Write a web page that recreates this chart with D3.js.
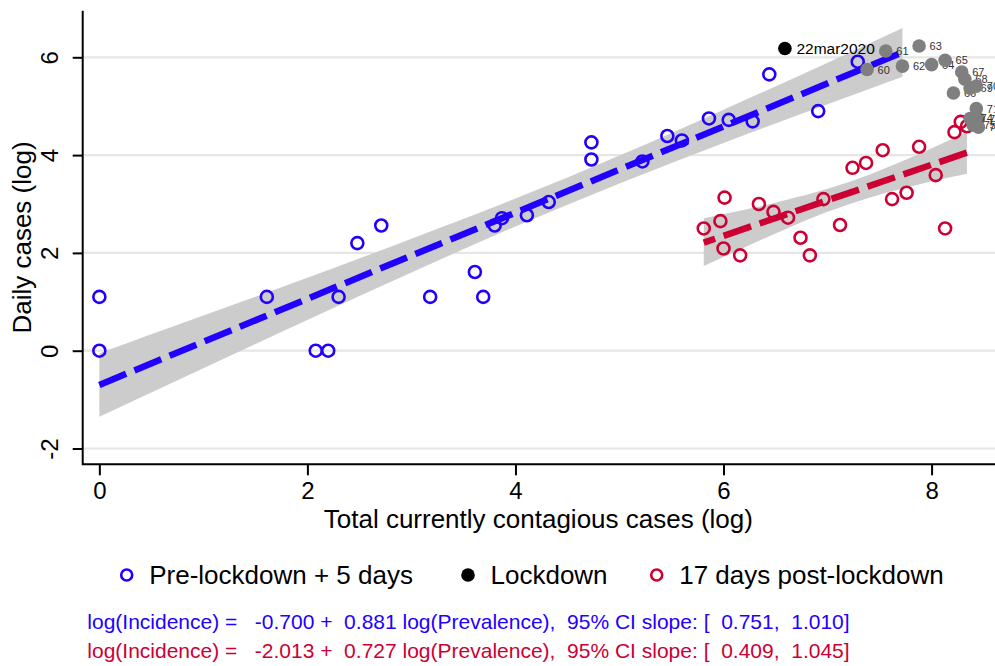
<!DOCTYPE html>
<html>
<head>
<meta charset="utf-8">
<script src="https://cdn.jsdelivr.net/npm/d3@7"></script>
<style>
  body { margin: 0; background: #fff; }
  svg { display: block; font-family: "Liberation Sans", Arial, sans-serif; }
</style>
</head>
<body>
<figure style="margin:0"></figure>
<script>

////////////////////////////////////
//////////////// Data //////////////
////////////////////////////////////

// pre-lockdown + 5 days (log prevalence, log incidence)
const preX = [0, 0, 1.61, 2.08, 2.20, 2.30, 2.48, 2.71, 3.18, 3.61, 3.69, 3.80, 3.87, 4.11, 4.32, 4.73, 4.73, 5.22, 5.46, 5.60, 5.86, 6.05, 6.28, 6.44, 6.91, 7.29]
const preY = [1.10, 0, 1.10, 0, 0, 1.10, 2.20, 2.56, 1.10, 1.61, 1.10, 2.56, 2.71, 2.77, 3.04, 3.91, 4.26, 3.87, 4.39, 4.30, 4.75, 4.72, 4.69, 5.65, 4.90, 5.91]

// lockdown day
const lockX = [6.59]
const lockY = [6.18]
const lockLab = ["22mar2020"]

// labelled days in between
const midX = [7.38, 7.56, 7.72, 7.88, 8.00, 8.13, 8.21, 8.29, 8.32, 8.37, 8.43, 8.43, 8.45, 8.45, 8.37, 8.40]
const midY = [5.75, 6.13, 5.82, 6.23, 5.85, 5.94, 5.27, 5.70, 5.55, 5.37, 5.41, 4.95, 4.74, 4.57, 4.75, 4.61]
const midLab = ["60", "61", "62", "63", "64", "65", "66", "67", "68", "69", "70", "71", "72", "73", "74", "75"]

// 17 days post-lockdown
const postX = [5.81, 5.97, 6.01, 6.00, 6.16, 6.34, 6.48, 6.62, 6.74, 6.83, 6.96, 7.12, 7.24, 7.37, 7.53, 7.62, 7.76, 7.88, 8.04, 8.13, 8.22, 8.28, 8.34]
const postY = [2.50, 2.65, 3.13, 2.09, 1.95, 3.00, 2.84, 2.72, 2.31, 1.95, 3.10, 2.57, 3.74, 3.84, 4.10, 3.10, 3.23, 4.17, 3.59, 2.50, 4.47, 4.68, 4.59]

// fitted lines (intercept, slope) and their x range
const preFit = [-0.700, 0.881]
const preRange = [0, 7.72]
const postFit = [-2.013, 0.727]
const postRange = [5.81, 8.34]

// 95% CI bands
const preBandX = [0, 1, 2, 3, 4, 5, 6, 7, 7.72]
const preBandLo = [-1.35, -0.36, 0.63, 1.60, 2.54, 3.42, 4.25, 5.04, 5.60]
const preBandHi = [-0.05, 0.72, 1.49, 2.29, 3.11, 3.99, 4.93, 5.89, 6.60]
const postBandX = [5.81, 6.2, 6.6, 7.0, 7.4, 7.8, 8.34]
const postBandLo = [1.73, 2.11, 2.49, 2.84, 3.13, 3.36, 3.62]
const postBandHi = [2.71, 2.88, 3.08, 3.31, 3.60, 3.95, 4.48]

const xTicks = [0, 2, 4, 6, 8]
const yTicks = [-2, 0, 2, 4, 6]

const legendLabels = ["Pre-lockdown + 5 days", "Lockdown", "17 days post-lockdown"]
const noteLines = [
  "log(Incidence) =   -0.700 +  0.881 log(Prevalence),  95% CI slope: [  0.751,  1.010]",
  "log(Incidence) =   -2.013 +  0.727 log(Prevalence),  95% CI slope: [  0.409,  1.045]"
]

////////////////////////////////////
///////////// SVG Setup ////////////
////////////////////////////////////

const svgWidth = 995
const svgHeight = 666
const plot = { left: 82.7, right: 994, top: 10.7, bottom: 464.3 }

const blue = "#2200ff"
const red = "#cc0033"
const band = "#cccccc"
const font = "'Liberation Sans', Arial, sans-serif"

const svg = d3.select('figure')
  .append('svg')
  .attr("width", svgWidth)
  .attr("height", svgHeight)
  .attr("viewBox", `0 0 ${svgWidth} ${svgHeight}`)

const x = d3.scaleLinear()
  .domain([-0.16, 8.60])
  .range([plot.left, plot.right])

const y = d3.scaleLinear()
  .domain([-2.323, 6.953])
  .range([plot.bottom, plot.top])

// grid lines
svg.append("g")
  .selectAll("line")
  .data(yTicks)
  .enter().append("line")
  .attr("x1", plot.left)
  .attr("x2", svgWidth)
  .attr("y1", d => y(d))
  .attr("y2", d => y(d))
  .style("stroke", "#e6e6e6")
  .style("stroke-width", 2.2)

////////////////////////////////////
///////// Bands & lines ////////////
////////////////////////////////////

const area = d3.area()
  .x(d => x(d[0]))
  .y0(d => y(d[1]))
  .y1(d => y(d[2]))
  .curve(d3.curveMonotoneX)

svg.append("path")
  .datum(preBandX.map((v, i) => [v, preBandLo[i], preBandHi[i]]))
  .attr("d", area)
  .style("fill", band)

svg.append("path")
  .datum(postBandX.map((v, i) => [v, postBandLo[i], postBandHi[i]]))
  .attr("d", area)
  .style("fill", band)

// open circles
function circles(xs, ys, color) {
  svg.append("g")
    .selectAll("circle")
    .data(xs.map((v, i) => [v, ys[i]]))
    .enter().append("circle")
    .attr("cx", d => x(d[0]))
    .attr("cy", d => y(d[1]))
    .attr("r", 6)
    .style("fill", "none")
    .style("stroke", color)
    .style("stroke-width", 2.6)
}
circles(preX, preY, blue)
circles(postX, postY, red)

// fitted dashed lines
function fitLine(fit, range, color, offset) {
  svg.append("line")
    .attr("x1", x(range[0]))
    .attr("y1", y(fit[0] + fit[1] * range[0]))
    .attr("x2", x(range[1]))
    .attr("y2", y(fit[0] + fit[1] * range[1]))
    .style("stroke", color)
    .style("stroke-width", 6.5)
    .style("stroke-dasharray", "29,9")
    .style("stroke-dashoffset", offset)
}
fitLine(preFit, preRange, blue, 0)
fitLine(postFit, postRange, red, 17)

// labelled grey days, each marker then its label
const mid = svg.append("g")
midX.forEach((v, i) => {
  mid.append("circle")
    .attr("cx", x(v))
    .attr("cy", y(midY[i]))
    .attr("r", 6.8)
    .style("fill", "#7f7f7f")
  mid.append("text")
    .attr("x", x(v) + 10.5)
    .attr("y", y(midY[i]) + 4)
    .style("font-size", "11px")
    .style("fill", "#333")
    .text(midLab[i])
})

// lockdown
svg.append("circle")
  .attr("cx", x(lockX[0]))
  .attr("cy", y(lockY[0]))
  .attr("r", 6.8)
  .style("fill", "#000")
svg.append("text")
  .attr("x", x(lockX[0]) + 11.5)
  .attr("y", y(lockY[0]) + 5.5)
  .style("font-size", "15.5px")
  .style("fill", "#000")
  .text(lockLab[0])

////////////////////////////////////
/////////////// Axes ///////////////
////////////////////////////////////

const yAxis = svg.append("g")
  .attr("transform", `translate(${plot.left},0)`)
  .call(d3.axisLeft(y).tickValues(yTicks).tickSize(10).tickFormat(d => String(d)))
yAxis.select(".domain").remove()
yAxis.selectAll(".tick line").style("stroke", "#000").style("stroke-width", 2)
yAxis.selectAll(".tick text")
  .attr("x", null).attr("dy", null)
  .attr("transform", "translate(-25,0) rotate(-90)")
  .attr("text-anchor", "middle")
  .style("font-family", font)
  .style("font-size", "24px")
  .style("fill", "#000")

const xAxis = svg.append("g")
  .attr("transform", `translate(0,${plot.bottom})`)
  .call(d3.axisBottom(x).tickValues(xTicks).tickSize(11).tickFormat(d => String(d)))
xAxis.select(".domain").remove()
xAxis.selectAll(".tick line").style("stroke", "#000").style("stroke-width", 2)
xAxis.selectAll(".tick text")
  .attr("y", 35).attr("dy", null)
  .style("font-family", font)
  .style("font-size", "24px")
  .style("fill", "#000")

// axis lines
svg.append("path")
  .attr("d", `M${plot.left},${plot.top}V${plot.bottom}H${svgWidth}`)
  .style("fill", "none")
  .style("stroke", "#000")
  .style("stroke-width", 2)

svg.append('text')
  .attr('transform', `translate(31,${(plot.top + plot.bottom) / 2}) rotate(-90)`)
  .style("text-anchor", "middle")
  .style('font-size', '26px')
  .style('fill', '#000')
  .text('Daily cases (log)')

svg.append('text')
  .attr('x', (plot.left + plot.right) / 2)
  .attr('y', 528)
  .style("text-anchor", "middle")
  .style('font-size', '26px')
  .style('fill', '#000')
  .text('Total currently contagious cases (log)')

////////////////////////////////////
/////////////// Legend /////////////
////////////////////////////////////

const legendX = [126.7, 468, 656.7]
const legendStyle = [
  { fill: "none", stroke: blue },
  { fill: "#000", stroke: "none" },
  { fill: "none", stroke: red }
]
legendLabels.forEach((lab, i) => {
  svg.append("circle")
    .attr("cx", legendX[i])
    .attr("cy", 575)
    .attr("r", legendStyle[i].fill === "none" ? 5.5 : 6.8)
    .style("fill", legendStyle[i].fill)
    .style("stroke", legendStyle[i].stroke)
    .style("stroke-width", 2.6)
  svg.append("text")
    .attr("x", legendX[i] + 22.5)
    .attr("y", 584)
    .style("font-size", "26px")
    .style("fill", "#000")
    .text(lab)
})

noteLines.forEach((t, i) => {
  svg.append("text")
    .attr("x", 87.3)
    .attr("y", 628.5 + i * 29)
    .attr("xml:space", "preserve")
    .style("white-space", "pre")
    .style("font-size", "21px")
    .style("fill", i === 0 ? blue : red)
    .text(t)
})

</script>
</body>
</html>
